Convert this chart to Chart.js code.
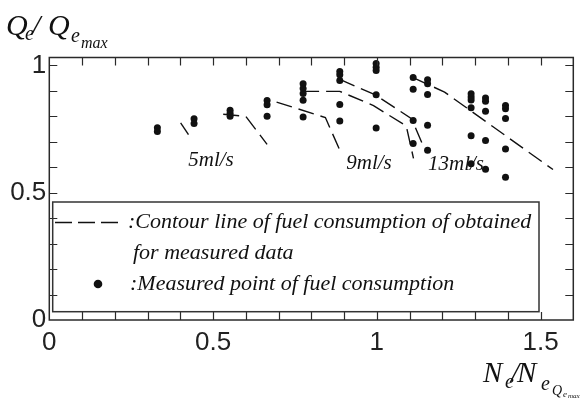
<!DOCTYPE html>
<html>
<head>
<meta charset="utf-8">
<script src="https://cdn.jsdelivr.net/npm/chart.js@4.4.0/dist/chart.umd.min.js"></script>
<style>
  html, body { margin: 0; padding: 0; background: #fff; }
</style>
</head>
<body>
<canvas id="cv" width="585" height="398"></canvas>
<script>
// speed ratio columns where fuel consumption was measured
const speedCols = [0.33, 0.442, 0.552, 0.665, 0.775, 0.887, 0.998, 1.111, 1.155, 1.288, 1.332, 1.393];
// Qe/Qemax read at each column (same order as speedCols)
const qCols = [
  [0.755, 0.74],
  [0.79, 0.772],
  [0.824, 0.812, 0.80],
  [0.862, 0.845, 0.80],
  [0.928, 0.909, 0.89, 0.863, 0.797],
  [0.976, 0.963, 0.941, 0.846, 0.782],
  [1.007, 0.993, 0.98, 0.885, 0.754],
  [0.952, 0.906, 0.784, 0.693],
  [0.944, 0.928, 0.886, 0.765, 0.667],
  [0.889, 0.876, 0.864, 0.834, 0.724, 0.614],
  [0.872, 0.859, 0.82, 0.705, 0.592],
  [0.842, 0.83, 0.791, 0.672, 0.561]
];

// contour lines of fuel consumption [Ne/Ne, Qe/Qemax]
const contourA = [[0.401, 0.774], [0.425, 0.728]];
const contour5 = [[0.531, 0.808], [0.60, 0.80], [0.665, 0.69]];
const contourC = [[0.694, 0.856], [0.843, 0.795], [0.885, 0.673]];
const contour9 = [[0.775, 0.898], [0.887, 0.898], [0.99, 0.842], [1.09, 0.762], [1.112, 0.635]];
const contourE = [[0.887, 0.945], [0.994, 0.885], [1.106, 0.791], [1.143, 0.68]];
const contour13 = [[1.111, 0.952], [1.207, 0.895], [1.538, 0.591]];

const xTicks = [0, 0.5, 1, 1.5];
const yTicks = [0, 0.5, 1];

const SERIF = '"Liberation Serif", "Times New Roman", serif';
const SANS = '"Liberation Sans", Arial, sans-serif';

function toXY(arr) {
  return arr.map(p => ({ x: p[0], y: p[1] }));
}

function contourSet(arr) {
  return {
    data: toXY(arr),
    showLine: true,
    borderColor: '#111',
    borderWidth: 1.4,
    borderDash: [16, 7],
    pointRadius: 0,
    fill: false
  };
}

let measured = [];
speedCols.forEach((sx, i) => {
  qCols[i].forEach(q => measured.push({ x: sx, y: q }));
});

// frame, inward ticks, legend box, labels and axis titles
const decorations = {
  id: 'decorations',
  afterDatasetsDraw(chart) {
    const { ctx, chartArea: a, scales: { x, y } } = chart;
    ctx.save();

    ctx.strokeStyle = '#2a2a2a';
    ctx.lineWidth = 1.5;
    ctx.strokeRect(a.left, a.top, a.right - a.left, a.bottom - a.top);

    ctx.lineWidth = 1.2;
    ctx.beginPath();
    for (let i = 1; i < 16; i++) {
      const px = Math.round(x.getPixelForValue(i / 10)) + 0.5;
      ctx.moveTo(px, a.bottom); ctx.lineTo(px, a.bottom - 8);
      ctx.moveTo(px, a.top); ctx.lineTo(px, a.top + 8);
    }
    for (let i = 1; i <= 10; i++) {
      const py = Math.round(y.getPixelForValue(i / 10)) + 0.5;
      ctx.moveTo(a.left, py); ctx.lineTo(a.left + 8, py);
      ctx.moveTo(a.right, py); ctx.lineTo(a.right - 8, py);
    }
    ctx.stroke();

    // legend box
    ctx.lineWidth = 1.5;
    ctx.strokeStyle = '#333';
    ctx.strokeRect(52.7, 202, 486.3, 109.7);

    ctx.strokeStyle = '#111';
    ctx.lineWidth = 1.4;
    ctx.setLineDash([17, 6]);
    ctx.beginPath();
    ctx.moveTo(55, 222.5); ctx.lineTo(124, 222.5);
    ctx.stroke();
    ctx.setLineDash([]);

    ctx.fillStyle = '#111';
    ctx.beginPath();
    ctx.arc(98, 284, 4.3, 0, Math.PI * 2);
    ctx.fill();

    ctx.font = 'italic 22px ' + SERIF;
    ctx.textBaseline = 'middle';
    ctx.textAlign = 'left';
    ctx.fillText(':Contour line of fuel consumption of obtained', 128, 222);
    ctx.fillText('for measured data', 133, 253);
    ctx.fillText(':Measured point of fuel consumption', 130, 284);

    // flow-rate labels
    ctx.font = 'italic 21px ' + SERIF;
    ctx.textAlign = 'center';
    ctx.fillText('5ml/s', 211, 160);
    ctx.fillText('9ml/s', 369, 163);
    ctx.fillText('13ml/s', 456, 164);

    // axis titles
    ctx.textAlign = 'left';
    ctx.textBaseline = 'alphabetic';
    const put = (t, size, px, py) => {
      ctx.font = 'italic ' + size + 'px ' + SERIF;
      ctx.fillText(t, px, py);
    };
    put('Q', 30, 6, 35);
    put('e', 20, 25, 40);
    put('/', 30, 32, 35);
    put('Q', 30, 48, 35);
    put('e', 20, 71, 42);
    put('max', 16, 81, 48);

    put('N', 29, 483, 382);
    put('e', 20, 505, 388);
    put('/', 29, 511, 382);
    put('N', 29, 517, 382);
    put('e', 20, 541, 390);
    put('Q', 14, 552, 395);
    put('e', 9, 563, 397);
    put('max', 7, 568, 398);

    ctx.restore();
  }
};

new Chart(document.getElementById('cv'), {
  type: 'scatter',
  data: {
    datasets: [
      contourSet(contourA),
      contourSet(contour5),
      contourSet(contourC),
      contourSet(contour9),
      contourSet(contourE),
      contourSet(contour13),
      {
        data: measured,
        pointRadius: 3.5,
        pointBackgroundColor: '#111',
        pointBorderWidth: 0,
        showLine: false
      }
    ]
  },
  options: {
    responsive: false,
    animation: false,
    layout: { padding: { top: 57.5, right: 11.7, left: 0, bottom: 0 } },
    plugins: {
      legend: { display: false },
      tooltip: { enabled: false }
    },
    scales: {
      x: {
        type: 'linear',
        min: 0,
        max: 1.6,
        grid: { display: false, drawTicks: false },
        border: { display: false },
        afterBuildTicks: s => { s.ticks = xTicks.map(v => ({ value: v })); },
        afterFit: s => { s.height = 78; },
        ticks: {
          autoSkip: false,
          maxRotation: 0,
          padding: 7,
          color: '#222',
          font: { family: SANS, size: 26 },
          callback: v => String(v)
        }
      },
      y: {
        type: 'linear',
        min: 0,
        max: 1.031,
        grid: { display: false, drawTicks: false },
        border: { display: false },
        afterBuildTicks: s => { s.ticks = yTicks.map(v => ({ value: v })); },
        afterFit: s => { s.width = 49.3; },
        ticks: {
          autoSkip: false,
          padding: 3,
          color: '#222',
          font: { family: SANS, size: 26 },
          callback: v => String(v)
        }
      }
    }
  },
  plugins: [decorations]
});
</script>
</body>
</html>
